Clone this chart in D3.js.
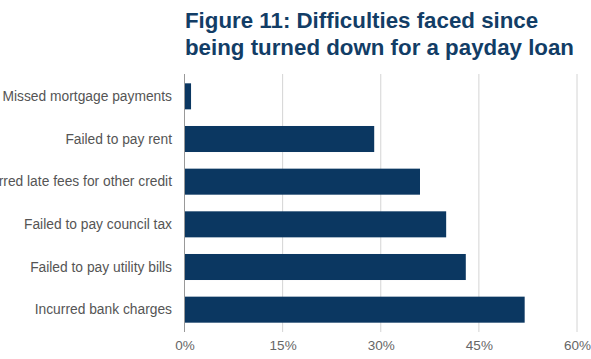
<!DOCTYPE html>
<html>
<head>
<meta charset="utf-8">
<script src="https://d3js.org/d3.v7.min.js"></script>
<style>
  body { margin: 0; background: #fff; }
  svg { display: block; }
</style>
</head>
<body>
<div id="chart"></div>
<script>
// Chart data
const categories = [
    "Missed mortgage payments",
    "Failed to pay rent",
    "Incurred late fees for other credit",
    "Failed to pay council tax",
    "Failed to pay utility bills",
    "Incurred bank charges"
];
const values = [1, 29, 36, 40, 43, 52];
const tickValues = [0, 15, 30, 45, 60];
const titleLines = [
    "Figure 11: Difficulties faced since",
    "being turned down for a payday loan"
];

const width = 591, height = 359;
const font = "Liberation Sans, Arial, sans-serif";

const svg = d3.select("#chart")
    .append("svg")
    .attr("width", width)
    .attr("height", height);

// Title
svg.append("g")
    .selectAll("text")
    .data(titleLines)
    .enter().append("text")
    .attr("x", 185)
    .attr("y", (d, i) => 28 + i * 27)
    .attr("fill", "#123d66")
    .attr("font-family", font)
    .attr("font-weight", "bold")
    .attr("font-size", "22.3px")
    .text(d => d);

const x = d3.scaleLinear()
    .domain([0, 60])
    .range([184.5, 577]);

const y = d3.scaleBand()
    .domain(categories)
    .range([75, 331])
    .paddingInner(0.39)
    .paddingOuter(0.195);

// Gridlines
svg.append("g")
    .selectAll("line")
    .data(tickValues.slice(1))
    .enter().append("line")
    .attr("x1", d => x(d))
    .attr("x2", d => x(d))
    .attr("y1", 74)
    .attr("y2", 332)
    .attr("stroke", "#d4d4d4")
    .attr("stroke-width", 1);

// Bars
svg.append("g")
    .selectAll("rect")
    .data(values)
    .enter().append("rect")
    .attr("x", x(0))
    .attr("y", (d, i) => y(categories[i]))
    .attr("width", d => x(d) - x(0))
    .attr("height", y.bandwidth())
    .attr("fill", "#0b3761");

// Zero axis line
svg.append("line")
    .attr("x1", x(0))
    .attr("x2", x(0))
    .attr("y1", 74)
    .attr("y2", 332)
    .attr("stroke", "#999")
    .attr("stroke-width", 1);

// X axis
const xAxis = svg.append("g")
    .attr("transform", "translate(0,331)")
    .call(d3.axisBottom(x)
        .tickValues(tickValues)
        .tickSize(0)
        .tickPadding(9)
        .tickFormat(d => d + "%"));
xAxis.select(".domain").remove();
xAxis.selectAll("text")
    .attr("fill", "#666")
    .attr("font-family", font)
    .attr("font-size", "13.5px");

// Category labels (the longest one runs off the left edge, as in the source)
svg.append("g")
    .selectAll("text")
    .data(categories)
    .enter().append("text")
    .attr("x", 172)
    .attr("y", d => y(d) + y.bandwidth() / 2)
    .attr("dy", "0.35em")
    .attr("text-anchor", "end")
    .attr("fill", "#555")
    .attr("font-family", font)
    .attr("font-size", "13.8px")
    .text(d => d);
</script>
</body>
</html>
